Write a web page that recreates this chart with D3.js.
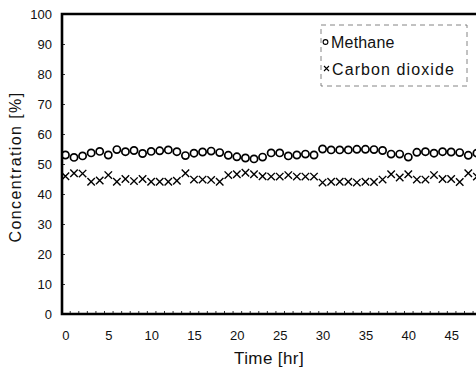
<!DOCTYPE html>
<html>
<head>
<meta charset="utf-8">
<script src="https://cdn.jsdelivr.net/npm/d3@7"></script>
<style>
  body { margin: 0; background: #fff; }
  text { font-family: Arial, 'Liberation Sans', Helvetica, sans-serif; fill: #111; }
</style>
</head>
<body>
<svg id="chart" width="476" height="371"></svg>
<script>
// hourly readings, hour 0 .. 48
const hours = d3.range(0, 49);
const methane = [53.0, 52.2, 52.7, 53.7, 54.2, 53.0, 54.8, 54.1, 54.5, 53.5,
  54.2, 54.4, 54.7, 54.1, 52.8, 53.6, 54.0, 54.3, 53.8, 52.9,
  52.4, 52.0, 51.7, 52.3, 53.7, 53.7, 52.7, 53.0, 53.3, 53.0,
  55.0, 54.7, 54.7, 54.7, 54.9, 54.9, 54.8, 54.5, 53.3, 53.3,
  52.3, 53.9, 54.1, 53.6, 54.1, 54.0, 53.8, 52.9, 53.6];
const carbonDioxide = [45.9, 46.9, 46.8, 44.1, 44.5, 46.3, 44.1, 45.0, 44.3, 45.0,
  44.1, 44.1, 44.1, 44.4, 46.9, 44.8, 44.8, 44.7, 44.1, 46.3,
  46.6, 47.1, 46.6, 45.9, 45.8, 45.8, 46.3, 45.8, 45.8, 45.8,
  43.8, 44.1, 44.1, 44.1, 43.8, 44.1, 44.0, 44.8, 46.6, 45.5,
  46.6, 44.8, 44.8, 46.3, 45.0, 45.0, 44.0, 46.9, 45.8];
const yTicks = [0, 10, 20, 30, 40, 50, 60, 70, 80, 90, 100];
const xTicks = [0, 5, 10, 15, 20, 25, 30, 35, 40, 45];
const seriesNames = ['Methane', 'Carbon dioxide'];

const svg = d3.select('#chart');
const margin = {top: 14, left: 62, bottom: 57};
const plotRight = 482; // frame runs past the crop on the right
const h = 371 - margin.top - margin.bottom;

// x: one category per hour, hour 0 sits a few px right of the axis
const x = d3.scaleLinear().domain([-0.4, 48.6]).range([margin.left, plotRight]);
const y = d3.scaleLinear().domain([0, 100]).range([margin.top + h, margin.top]);

// minor ticks along the bottom, one per hour
svg.append('g')
  .attr('transform', `translate(0,${y(0)})`)
  .call(d3.axisBottom(x).tickValues(d3.range(0, 49).map(d => d + 0.5)).tickSize(-3).tickFormat(''))
  .call(g => g.select('.domain').remove())
  .call(g => g.selectAll('line').attr('stroke', '#333').attr('stroke-width', 1));

// x tick labels
svg.append('g')
  .attr('transform', `translate(0,${y(0)})`)
  .call(d3.axisBottom(x).tickValues(xTicks).tickSize(0).tickPadding(17))
  .call(g => g.select('.domain').remove())
  .call(g => g.selectAll('text').attr('font-size', 13).attr('font-family', 'Arial, Liberation Sans, sans-serif'));

// y axis with small inward ticks
svg.append('g')
  .attr('transform', `translate(${margin.left},0)`)
  .call(d3.axisLeft(y).tickValues(yTicks).tickSize(-3).tickPadding(10))
  .call(g => g.select('.domain').remove())
  .call(g => g.selectAll('line').attr('stroke', '#333'))
  .call(g => g.selectAll('text').attr('font-size', 13).attr('font-family', 'Arial, Liberation Sans, sans-serif'));

// frame: left, top, bottom in heavy black
svg.append('path')
  .attr('d', `M${plotRight},${y(100)}H${margin.left}V${y(0)}H${plotRight}`)
  .attr('fill', 'none')
  .attr('stroke', '#000')
  .attr('stroke-width', 2.6);

// methane: open circles
svg.append('g').selectAll('circle')
  .data(hours)
  .join('circle')
  .attr('cx', d => x(d))
  .attr('cy', d => y(methane[d]))
  .attr('r', 3.6)
  .attr('fill', 'none')
  .attr('stroke', '#000')
  .attr('stroke-width', 1.7);

// carbon dioxide: crosses
const cross = d3.symbol().type(d3.symbolX).size(38);
svg.append('g').selectAll('path')
  .data(hours)
  .join('path')
  .attr('transform', d => `translate(${x(d)},${y(carbonDioxide[d])})`)
  .attr('d', cross)
  .attr('fill', 'none')
  .attr('stroke', '#000')
  .attr('stroke-width', 1.4);

// axis titles
svg.append('text')
  .attr('x', 269)
  .attr('y', 364)
  .attr('text-anchor', 'middle')
  .attr('font-size', 17)
  .attr('letter-spacing', 0.4)
  .text('Time [hr]');

svg.append('text')
  .attr('transform', 'translate(21,167) rotate(-90)')
  .attr('text-anchor', 'middle')
  .attr('font-size', 16)
  .attr('letter-spacing', 1.4)
  .text('Concentration [%]');

// legend box
const legend = svg.append('g');
legend.append('rect')
  .attr('x', 321).attr('y', 25)
  .attr('width', 146).attr('height', 61)
  .attr('fill', '#fff')
  .attr('stroke', '#666')
  .attr('stroke-width', 0.8)
  .attr('stroke-dasharray', '5,4');

legend.append('circle')
  .attr('cx', 325.5).attr('cy', 42).attr('r', 2.4)
  .attr('fill', 'none').attr('stroke', '#000').attr('stroke-width', 1.1);
legend.append('path')
  .attr('transform', 'translate(326.5,68.5)')
  .attr('d', d3.symbol().type(d3.symbolX).size(18))
  .attr('fill', 'none').attr('stroke', '#000').attr('stroke-width', 1.1);

legend.selectAll('text.lab')
  .data(seriesNames)
  .join('text')
  .attr('class', 'lab')
  .attr('x', (d, i) => i === 0 ? 331 : 332)
  .attr('y', (d, i) => 47.5 + i * 27)
  .attr('font-size', 16)
  .attr('letter-spacing', (d, i) => i === 0 ? 0.2 : 1.1)
  .text(d => d);
</script>
</body>
</html>
